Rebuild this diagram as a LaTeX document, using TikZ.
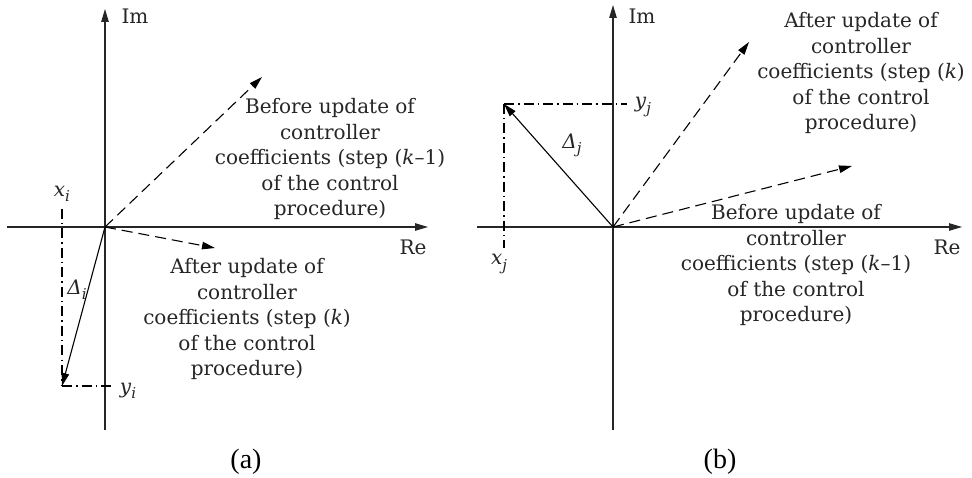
\documentclass[tikz,border=0pt]{standalone}
\usepackage{fontspec}
\setmainfont{DejaVu Serif}
\newfontfamily\capfont{Liberation Serif}
\usetikzlibrary{arrows.meta}
\newcommand\sublab[2]{\textit{#1}\raisebox{-0.5ex}{\fontsize{15}{15}\selectfont\textit{#2}}}
\begin{document}
\begin{tikzpicture}[x=1pt,y=-1pt,
  tip/.style={-{Triangle[length=13pt,width=7.5pt]}},
  axis/.style={line width=1.1pt,draw=black!85,tip},
  dasharrow/.style={line width=1.1pt,tip,dash pattern=on 11pt off 6pt},
  vec/.style={line width=1.1pt,tip},
  dashdot/.style={line width=1.1pt,dash pattern=on 10pt off 4pt on 1.5pt off 4pt},
  txt/.style={align=center,inner sep=0pt,text=black!85,font=\fontsize{20}{25.5}\selectfont},
  lab/.style={inner sep=0pt,text=black!85,font=\fontsize{20}{24}\selectfont},
  capt/.style={inner sep=0pt,font=\capfont\fontsize{28}{32}\selectfont}]
\useasboundingbox (0,0) rectangle (972,478);
% ---------- panel (a) ----------
\coordinate (Oa) at (105,227);
\coordinate (imAbot) at (105,430);
\coordinate (imAtop) at (105,9);
\coordinate (reAl) at (7,227);
\coordinate (reAr) at (428,227);
\coordinate (befA) at (262,77);
\coordinate (aftA) at (215,248);
\coordinate (dA) at (62,386);
\coordinate (xAtop) at (62,209);
\coordinate (yAend) at (113,386);
\draw[axis] (imAbot) -- (imAtop);
\draw[axis] (reAl) -- (reAr);
\node[lab] (ImA) at (135,16) {Im};
\node[lab] (ReA) at (413,247) {Re};
\draw[dasharrow] (Oa) -- (befA);
\draw[dasharrow] (Oa) -- (aftA);
\draw[dashdot] (xAtop) -- (dA);
\draw[dashdot] (dA) -- (yAend);
\draw[vec] (Oa) -- (dA);
\node[lab] (xi) at (62,194) {\sublab{x}{i}};
\node[lab] (Di) at (77,290) {\sublab{Δ}{i}};
\node[lab] (yi) at (128,391) {\sublab{y}{i}};
\node[txt] (tBefA) at (330,159) {Before update of\\controller\\coefficients (step (\textit{k}–1)\\of the control\\procedure)};
\node[txt] (tAftA) at (247,319) {After update of\\controller\\coefficients (step (\textit{k})\\of the control\\procedure)};
\node[capt] (capA) at (246,462) {(a)};
% ---------- panel (b) ----------
\coordinate (Ob) at (613,227);
\coordinate (imBbot) at (613,430);
\coordinate (imBtop) at (613,5);
\coordinate (reBl) at (477,227);
\coordinate (reBr) at (962,227);
\coordinate (aftB) at (749,42);
\coordinate (befB) at (852,166);
\coordinate (dB) at (504,104);
\coordinate (yBend) at (627,104);
\coordinate (xBend) at (504,248);
\draw[axis] (imBbot) -- (imBtop);
\draw[axis] (reBl) -- (reBr);
\node[lab] (ImB) at (642,16) {Im};
\node[lab] (ReB) at (947,247) {Re};
\draw[dasharrow] (Ob) -- (aftB);
\draw[dasharrow] (Ob) -- (befB);
\draw[dashdot] (dB) -- (yBend);
\draw[dashdot] (dB) -- (xBend);
\draw[vec] (Ob) -- (dB);
\node[lab] (yj) at (643,107) {\sublab{y}{j}};
\node[lab] (xj) at (499,264) {\sublab{x}{j}};
\node[lab] (Dj) at (572,145) {\sublab{Δ}{j}};
\node[txt] (tAftB) at (861,73) {After update of\\controller\\coefficients (step (\textit{k})\\of the control\\procedure)};
\node[txt] (tBefB) at (796,265) {Before update of\\controller\\coefficients (step (\textit{k}–1)\\of the control\\procedure)};
\node[capt] (capB) at (720,462) {(b)};
\end{tikzpicture}
\end{document}
